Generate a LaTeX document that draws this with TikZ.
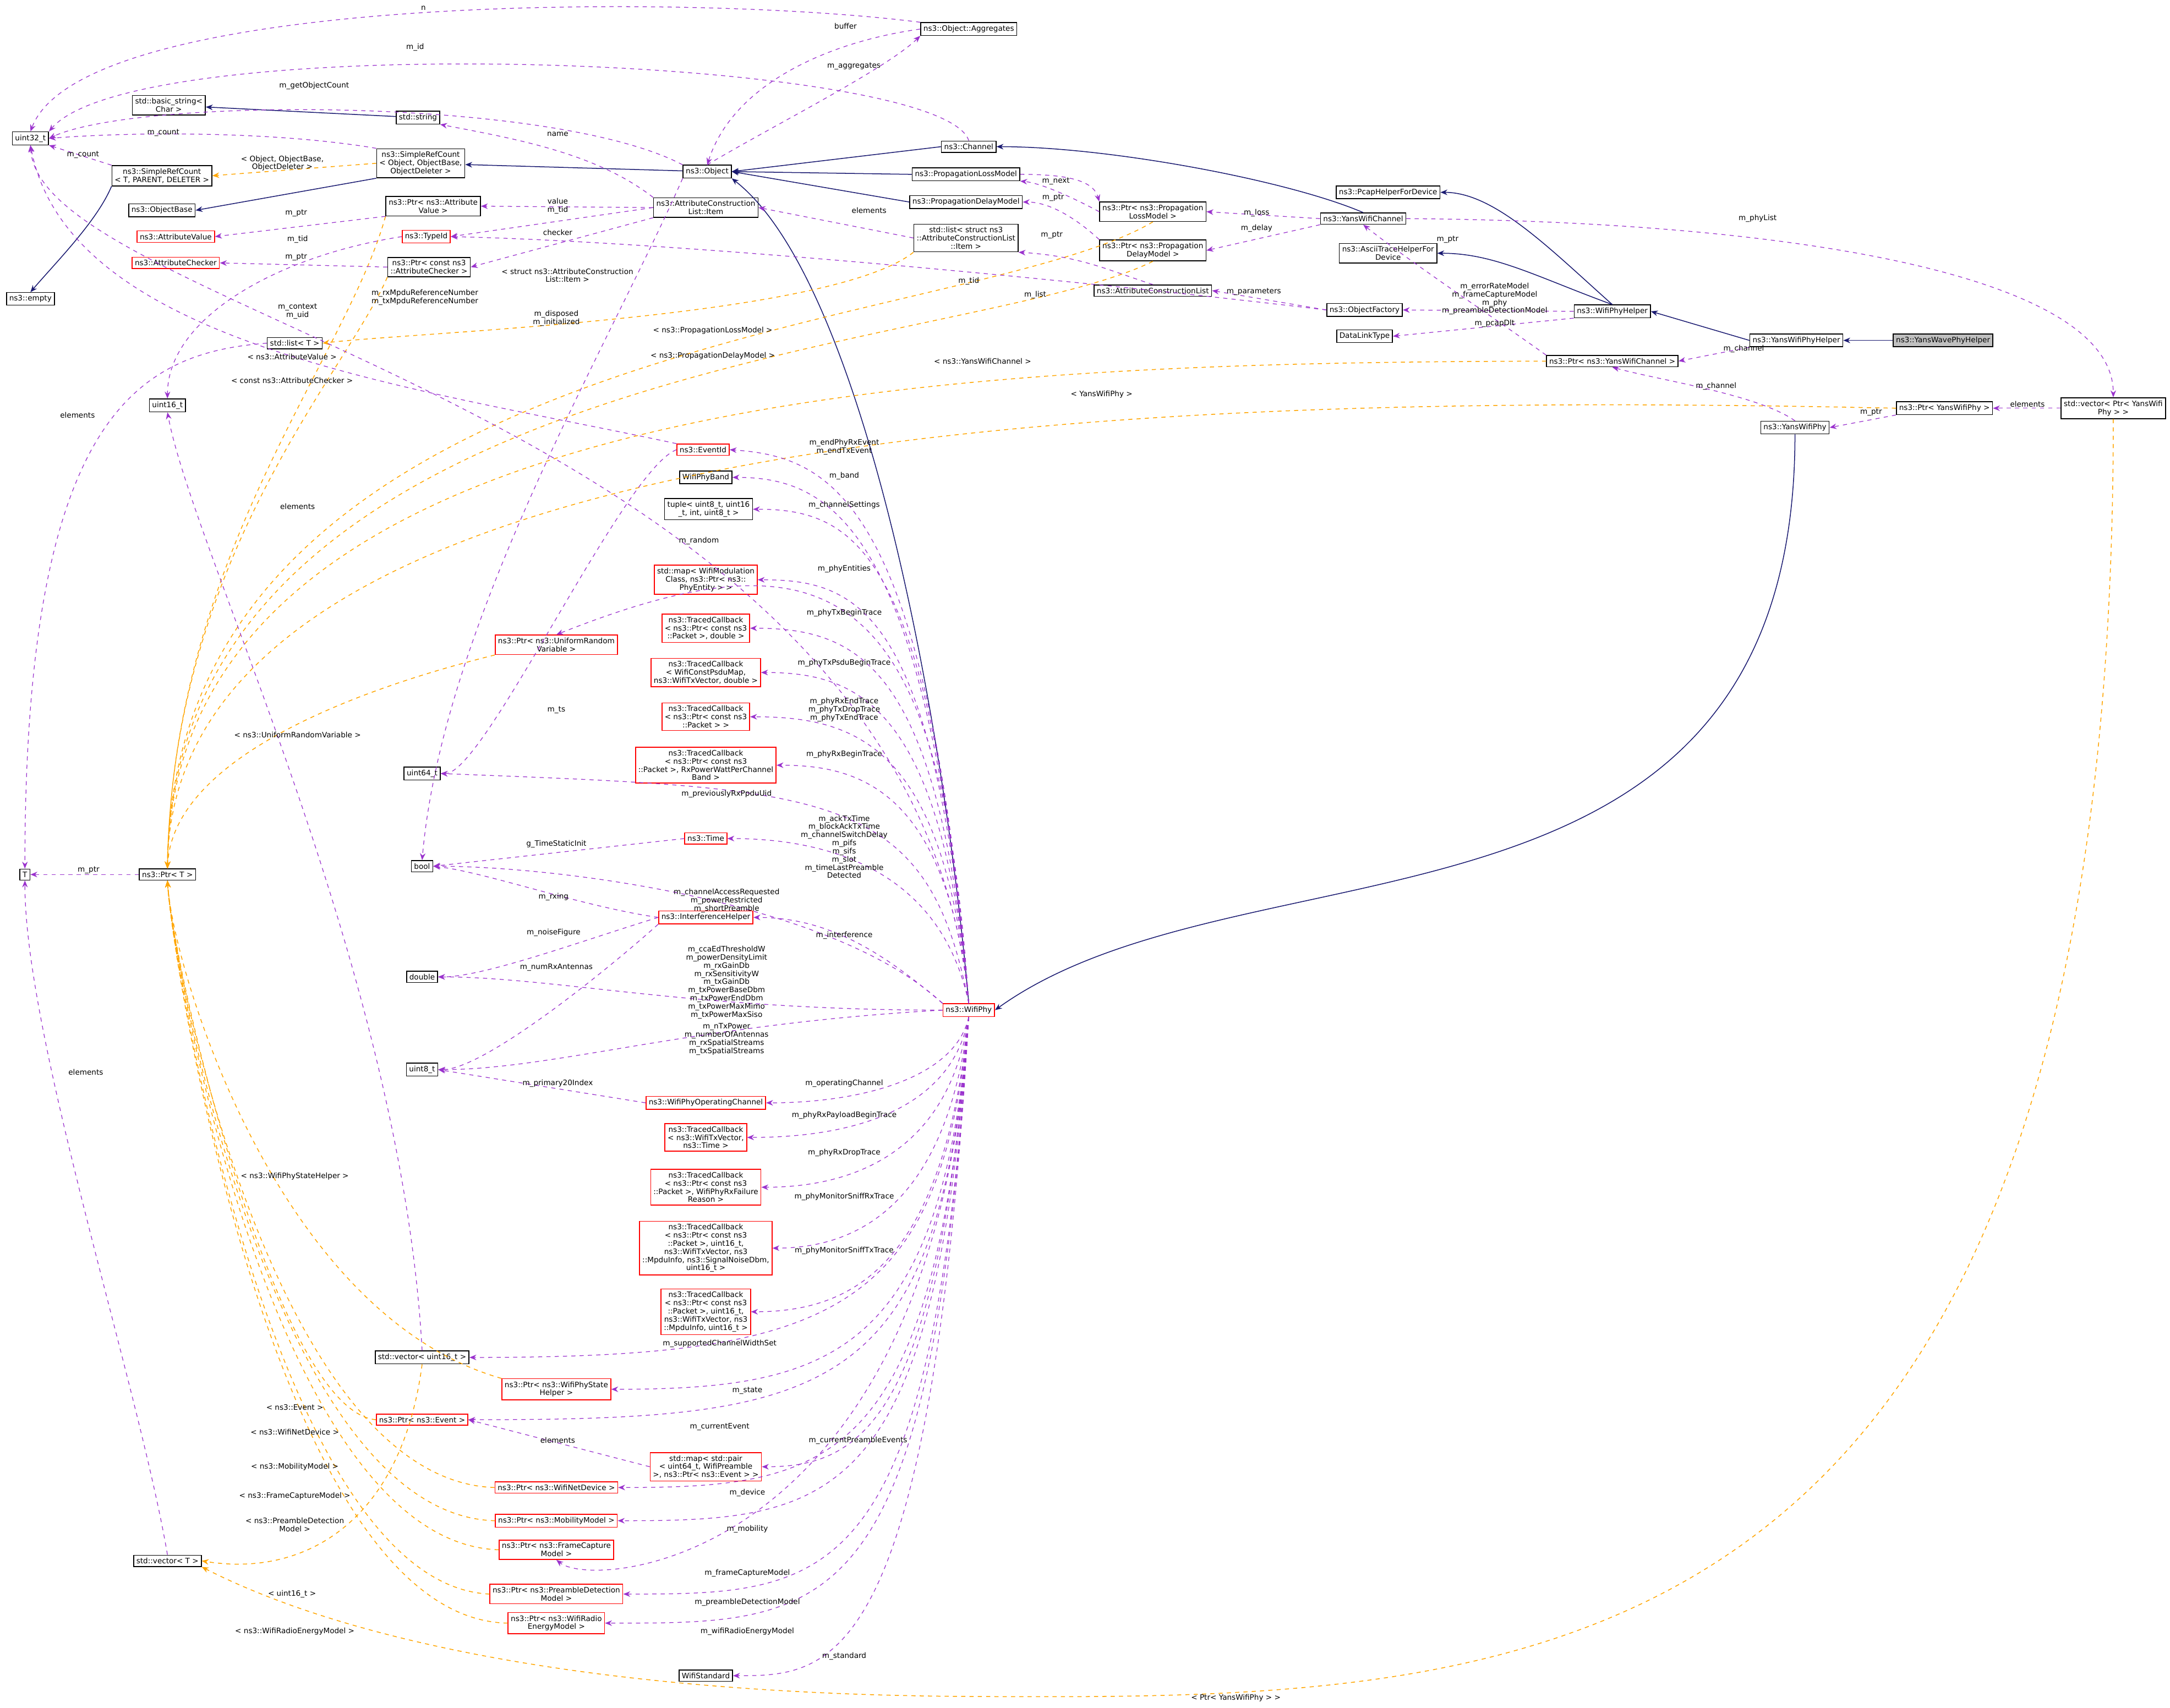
\documentclass[tikz,border=0pt]{standalone}
\usepackage{fontspec}
\setmainfont{DejaVu Sans}
\usetikzlibrary{arrows.meta}
\definecolor{usecol}{RGB}{154,50,205}
\definecolor{tmplcol}{RGB}{255,165,0}
\definecolor{inhcol}{RGB}{25,25,112}
\definecolor{badcol}{RGB}{255,0,0}
\tikzset{
	every node/.style={font=\fontsize{5.4}{5.9}\selectfont},
	cls/.style={draw=black, line width=0.6pt, inner sep=2pt, align=center, fill=white},
	bad/.style={cls, draw=badcol},
	root/.style={cls, fill=black!25},
	lbl/.style={align=center, inner sep=0.5pt},
	use/.style={draw=usecol, dashed, line width=0.5pt, -{Stealth[length=5pt,width=4pt]}},
	tmpl/.style={draw=tmplcol, dashed, line width=0.6pt, -{Stealth[length=5pt,width=4pt]}},
	inh/.style={draw=inhcol, line width=0.6pt, -{Stealth[length=5pt,width=4pt]}}}

\begin{document}
\begin{tikzpicture}[x=1pt,y=1pt,yscale=-1]
	\useasboundingbox (0,0) rectangle (1568,1234);

	% classes, left columns
	\node[cls] (u32) at (22,100) {uint32\_t};
	\node[cls] (bstr) at (122,76) {std::basic\_string\textless\\Char \textgreater};
	\node[cls] (str) at (302,85) {std::string};
	\node[cls] (srct) at (117,127) {ns3::SimpleRefCount\\\textless{} T, PARENT, DELETER \textgreater};
	\node[cls] (srco) at (304,118) {ns3::SimpleRefCount\\\textless{} Object, ObjectBase,\\ObjectDeleter \textgreater};
	\node[cls] (objbase) at (117,152) {ns3::ObjectBase};
	\node[cls] (empty) at (22,216) {ns3::empty};
	\node[cls] (pav) at (313,149) {ns3::Ptr\textless{} ns3::Attribute\\Value \textgreater};
	\node[bad] (av) at (127,171) {ns3::AttributeValue};
	\node[bad] (tid) at (308,171) {ns3::TypeId};
	\node[bad] (ac) at (127,190) {ns3::AttributeChecker};
	\node[cls] (pac) at (310,193) {ns3::Ptr\textless{} const ns3\\::AttributeChecker \textgreater};
	\node[cls] (listt) at (213,248) {std::list\textless{} T \textgreater};
	\node[cls] (u16) at (121,293) {uint16\_t};
	\node[cls] (u64) at (305,559) {uint64\_t};
	\node[cls] (bool) at (305,626) {bool};
	\node[cls] (t) at (18,632) {T};
	\node[cls] (ptrt) at (121,632) {ns3::Ptr\textless{} T \textgreater};
	\node[cls] (dbl) at (305,706) {double};
	\node[cls] (u8) at (305,773) {uint8\_t};
	\node[cls] (vu16) at (305,981) {std::vector\textless{} uint16\_t \textgreater};
	\node[bad] (pev) at (305,1026) {ns3::Ptr\textless{} ns3::Event \textgreater};
	\node[cls] (vect) at (121,1128) {std::vector\textless{} T \textgreater};

	% classes, middle columns
	\node[cls] (aggr) at (700,21) {ns3::Object::Aggregates};
	\node[cls] (obj) at (511,124) {ns3::Object};
	\node[cls] (item) at (510,150) {ns3::AttributeConstruction\\List::Item};
	\node[bad] (purv) at (402,466) {ns3::Ptr\textless{} ns3::UniformRandom\\Variable \textgreater};
	\node[bad] (evid) at (508,325) {ns3::EventId};
	\node[cls] (band) at (510,345) {WifiPhyBand};
	\node[cls] (tupl) at (512,368) {tuple\textless{} uint8\_t, uint16\\\_t, int, uint8\_t \textgreater};
	\node[bad] (phyent) at (510,419) {std::map\textless{} WifiModulation\\Class, ns3::Ptr\textless{} ns3::\\PhyEntity \textgreater{} \textgreater};
	\node[bad] (tca) at (510,454) {ns3::TracedCallback\\\textless{} ns3::Ptr\textless{} const ns3\\::Packet \textgreater, double \textgreater};
	\node[bad] (tcb) at (510,486) {ns3::TracedCallback\\\textless{} WifiConstPsduMap,\\ns3::WifiTxVector, double \textgreater};
	\node[bad] (tcc) at (510,518) {ns3::TracedCallback\\\textless{} ns3::Ptr\textless{} const ns3\\::Packet \textgreater{} \textgreater};
	\node[bad] (tcd) at (510,553) {ns3::TracedCallback\\\textless{} ns3::Ptr\textless{} const ns3\\::Packet \textgreater, RxPowerWattPerChannel\\Band \textgreater};
	\node[bad] (time) at (510,606) {ns3::Time};
	\node[bad] (ih) at (510,663) {ns3::InterferenceHelper};
	\node[bad] (woc) at (510,797) {ns3::WifiPhyOperatingChannel};
	\node[bad] (tce) at (510,822) {ns3::TracedCallback\\\textless{} ns3::WifiTxVector,\\ns3::Time \textgreater};
	\node[bad] (tcf) at (510,858) {ns3::TracedCallback\\\textless{} ns3::Ptr\textless{} const ns3\\::Packet \textgreater, WifiPhyRxFailure\\Reason \textgreater};
	\node[bad] (tcg) at (510,902) {ns3::TracedCallback\\\textless{} ns3::Ptr\textless{} const ns3\\::Packet \textgreater, uint16\_t,\\ns3::WifiTxVector, ns3\\::MpduInfo, ns3::SignalNoiseDbm,\\uint16\_t \textgreater};
	\node[bad] (tch) at (510,948) {ns3::TracedCallback\\\textless{} ns3::Ptr\textless{} const ns3\\::Packet \textgreater, uint16\_t,\\ns3::WifiTxVector, ns3\\::MpduInfo, uint16\_t \textgreater};
	\node[bad] (pwsh) at (402,1004) {ns3::Ptr\textless{} ns3::WifiPhyState\\Helper \textgreater};
	\node[bad] (mapev) at (510,1060) {std::map\textless{} std::pair\\\textless{} uint64\_t, WifiPreamble\\\textgreater, ns3::Ptr\textless{} ns3::Event \textgreater{} \textgreater};
	\node[bad] (pwnd) at (402,1075) {ns3::Ptr\textless{} ns3::WifiNetDevice \textgreater};
	\node[bad] (pmm) at (402,1099) {ns3::Ptr\textless{} ns3::MobilityModel \textgreater};
	\node[bad] (pfc) at (402,1120) {ns3::Ptr\textless{} ns3::FrameCapture\\Model \textgreater};
	\node[bad] (ppd) at (402,1152) {ns3::Ptr\textless{} ns3::PreambleDetection\\Model \textgreater};
	\node[bad] (pwre) at (402,1173) {ns3::Ptr\textless{} ns3::WifiRadio\\EnergyModel \textgreater};
	\node[cls] (wstd) at (510,1211) {WifiStandard};
	\node[bad] (wp) at (700,730) {ns3::WifiPhy};

	% classes, right columns
	\node[cls] (chan) at (700,106) {ns3::Channel};
	\node[cls] (ploss) at (698,126) {ns3::PropagationLossModel};
	\node[cls] (pdelay) at (698,146) {ns3::PropagationDelayModel};
	\node[cls] (litem) at (698,172) {std::list\textless{} struct ns3\\::AttributeConstructionList\\::Item \textgreater};
	\node[cls] (pploss) at (833,153) {ns3::Ptr\textless{} ns3::Propagation\\LossModel \textgreater};
	\node[cls] (ppdelay) at (833,181) {ns3::Ptr\textless{} ns3::Propagation\\DelayModel \textgreater};
	\node[cls] (acl) at (833,210) {ns3::AttributeConstructionList};
	\node[cls] (pcap) at (1003,139) {ns3::PcapHelperForDevice};
	\node[cls] (ywc) at (985,158) {ns3::YansWifiChannel};
	\node[cls] (ascii) at (1003,183) {ns3::AsciiTraceHelperFor\\Device};
	\node[cls] (of) at (986,224) {ns3::ObjectFactory};
	\node[cls] (dlt) at (986,243) {DataLinkType};
	\node[cls] (wph) at (1165,225) {ns3::WifiPhyHelper};
	\node[cls] (pywc) at (1165,261) {ns3::Ptr\textless{} ns3::YansWifiChannel \textgreater};
	\node[cls] (ywph) at (1298,246) {ns3::YansWifiPhyHelper};
	\node[root] (ywave) at (1404,246) {ns3::YansWavePhyHelper};
	\node[cls] (pywp) at (1405,295) {ns3::Ptr\textless{} YansWifiPhy \textgreater};
	\node[cls] (vpywp) at (1527,295) {std::vector\textless{} Ptr\textless{} YansWifi\\Phy \textgreater{} \textgreater};
	\node[cls] (ywp) at (1297,309) {ns3::YansWifiPhy};

	% inheritance
	\draw[inh] (str) -- (bstr);
	\draw[inh] (obj) -- (srco);
	\draw[inh] (srco.south west) -- (objbase.east);
	\draw[inh] (srct.south west) .. controls (70,160) and (40,190) .. (empty.north);
	\draw[inh] (chan.west) -- (obj.east);
	\draw[inh] (ploss.west) -- (obj.east);
	\draw[inh] (pdelay.west) -- (obj.east);
	\draw[inh] (wp.north) .. controls (680,500) and (620,200) .. (obj.south east);
	\draw[inh] (ywc.north) .. controls (930,130) and (800,106) .. (chan.east);
	\draw[inh] (wph.north) .. controls (1120,180) and (1080,139) .. (pcap.east);
	\draw[inh] (wph.north) .. controls (1110,200) and (1080,183) .. (ascii.east);
	\draw[inh] (ywph.west) -- (wph.east);
	\draw[inh] (ywave.west) -- (ywph.east);
	\draw[inh] (ywp.south) .. controls (1297,700) and (900,600) .. (wp.east);

	% template instantiations
	\draw[tmpl] (srco.west) -- (srct.east);
	\draw[tmpl] (pav.south west) .. controls (250,260) and (125,400) .. (ptrt.north);
	\draw[tmpl] (pac.south west) .. controls (250,270) and (125,400) .. (ptrt.north);
	\draw[tmpl] (litem.south west) .. controls (600,230) and (300,240) .. (listt.east);
	\draw[tmpl] (pploss.south) .. controls (700,240) and (125,240) .. (ptrt.north);
	\draw[tmpl] (ppdelay.south) .. controls (700,255) and (125,260) .. (ptrt.north);
	\draw[tmpl] (pywc.west) .. controls (700,262) and (125,280) .. (ptrt.north);
	\draw[tmpl] (pywp.west) .. controls (900,285) and (125,290) .. (ptrt.north);
	\draw[tmpl] (purv.south west) .. controls (250,500) and (125,550) .. (ptrt.north);
	\draw[tmpl] (pwsh.north west) .. controls (200,950) and (125,700) .. (ptrt.south);
	\draw[tmpl] (pev.west) .. controls (200,1020) and (125,700) .. (ptrt.south);
	\draw[tmpl] (pwnd.west) .. controls (200,1070) and (125,700) .. (ptrt.south);
	\draw[tmpl] (pmm.west) .. controls (200,1095) and (125,700) .. (ptrt.south);
	\draw[tmpl] (pfc.west) .. controls (200,1115) and (125,700) .. (ptrt.south);
	\draw[tmpl] (ppd.west) .. controls (200,1145) and (125,700) .. (ptrt.south);
	\draw[tmpl] (pwre.west) .. controls (200,1170) and (125,700) .. (ptrt.south);
	\draw[tmpl] (vu16.south) .. controls (290,1100) and (220,1140) .. (vect.east);
	\draw[tmpl] (vpywp.south) .. controls (1527,1230) and (1100,1228) .. (700,1226) .. controls (350,1224) and (200,1160) .. (vect.south east);

	% members
	\draw[use] (aggr.north west) .. controls (500,-5) and (60,-5) .. (u32.north);
	\draw[use] (aggr.west) .. controls (600,30) and (530,60) .. (obj.north);
	\draw[use] (obj.north) .. controls (560,90) and (640,50) .. (aggr.south west);
	\draw[use] (chan.north) .. controls (680,40) and (100,20) .. (u32.north east);
	\draw[use] (obj.north west) .. controls (400,70) and (100,70) .. (u32.east);
	\draw[use] (srco.north west) .. controls (200,95) and (100,95) .. (u32.east);
	\draw[use] (srct.north west) -- (u32.south east);
	\draw[use] (item.north west) .. controls (430,110) and (370,100) .. (str.south east);
	\draw[use] (item.west) -- (pav.east);
	\draw[use] (item.south west) -- (pac.east);
	\draw[use] (item.west) -- (tid.east);
	\draw[use] (pav.south west) -- (av.east);
	\draw[use] (pac.west) -- (ac.east);
	\draw[use] (tid.west) .. controls (200,185) and (121,230) .. (u16.north);
	\draw[use] (litem.west) -- (item.east);
	\draw[use] (acl.north) .. controls (800,195) and (780,185) .. (litem.south east);
	\draw[use] (of.west) -- (acl.east);
	\draw[use] (of.west) .. controls (800,205) and (500,175) .. (tid.east);
	\draw[use] (pploss.west) .. controls (770,140) and (750,132) .. (ploss.south east);
	\draw[use] (ploss.east) .. controls (770,126) and (790,130) .. (pploss.north west);
	\draw[use] (ppdelay.north west) .. controls (780,160) and (760,146) .. (pdelay.east);
	\draw[use] (ywc.west) -- (pploss.east);
	\draw[use] (ywc.south west) -- (ppdelay.east);
	\draw[use] (ywc.east) .. controls (1300,160) and (1527,200) .. (vpywp.north);
	\draw[use] (wph.west) -- (of.east);
	\draw[use] (wph.south west) -- (dlt.east);
	\draw[use] (ywph.south west) -- (pywc.east);
	\draw[use] (pywc.north west) .. controls (1080,230) and (1020,190) .. (ywc.south);
	\draw[use] (ywp.north) .. controls (1270,285) and (1200,275) .. (pywc.south);
	\draw[use] (pywp.south west) -- (ywp.east);
	\draw[use] (vpywp.west) -- (pywp.east);
	\draw[use] (listt.west) .. controls (100,255) and (18,300) .. (t.north);
	\draw[use] (ptrt.west) -- (t.east);
	\draw[use] (vect.north) .. controls (100,1000) and (18,750) .. (t.south);
	\draw[use] (vu16.north) .. controls (290,700) and (140,400) .. (u16.south);
	\draw[use] (evid.north west) .. controls (300,280) and (50,250) .. (u32.south);
	\draw[use] (evid.west) .. controls (450,340) and (350,560) .. (u64.east);
	\draw[use] (wp.north) .. controls (660,300) and (30,230) .. (u32.south);
	\draw[use] (obj.south west) .. controls (440,250) and (320,450) .. (bool.north);
	\draw[use] (time.west) -- (bool.east);
	\draw[use] (ih.west) .. controls (420,655) and (350,630) .. (bool.east);
	\draw[use] (ih.west) .. controls (420,680) and (350,706) .. (dbl.east);
	\draw[use] (ih.south west) .. controls (440,700) and (350,773) .. (u8.east);
	\draw[use] (woc.west) -- (u8.east);
	\draw[use] (mapev.west) -- (pev.east);
	\draw[use] (wp.north) .. controls (670,360) and (600,330) .. (evid.east);
	\draw[use] (wp.north) .. controls (670,380) and (600,345) .. (band.east);
	\draw[use] (wp.north) .. controls (672,400) and (620,368) .. (tupl.east);
	\draw[use] (wp.north) .. controls (680,420) and (600,380) .. (purv.north);
	\draw[use] (wp.north) .. controls (675,440) and (620,419) .. (phyent.east);
	\draw[use] (wp.north) .. controls (678,480) and (620,454) .. (tca.east);
	\draw[use] (wp.north) .. controls (680,510) and (620,486) .. (tcb.east);
	\draw[use] (wp.north) .. controls (682,540) and (620,518) .. (tcc.east);
	\draw[use] (wp.north) .. controls (684,570) and (620,553) .. (tcd.east);
	\draw[use] (wp.north) .. controls (670,570) and (600,570) .. (u64.east);
	\draw[use] (wp.north) .. controls (680,630) and (600,606) .. (time.east);
	\draw[use] (wp.north west) .. controls (600,650) and (400,626) .. (bool.east);
	\draw[use] (wp.north west) .. controls (640,690) and (600,663) .. (ih.east);
	\draw[use] (wp.west) .. controls (500,730) and (400,706) .. (dbl.east);
	\draw[use] (wp.west) .. controls (500,740) and (400,773) .. (u8.east);
	\draw[use] (wp.south) .. controls (690,780) and (620,797) .. (woc.east);
	\draw[use] (wp.south) .. controls (688,800) and (620,822) .. (tce.east);
	\draw[use] (wp.south) .. controls (686,830) and (620,858) .. (tcf.east);
	\draw[use] (wp.south) .. controls (684,870) and (620,902) .. (tcg.east);
	\draw[use] (wp.south) .. controls (682,910) and (620,948) .. (tch.east);
	\draw[use] (wp.south) .. controls (680,950) and (600,981) .. (vu16.east);
	\draw[use] (wp.south) .. controls (680,980) and (600,1004) .. (pwsh.east);
	\draw[use] (wp.south) .. controls (678,1010) and (600,1026) .. (pev.east);
	\draw[use] (wp.south) .. controls (678,1030) and (620,1060) .. (mapev.east);
	\draw[use] (wp.south) .. controls (676,1060) and (600,1075) .. (pwnd.east);
	\draw[use] (wp.south) .. controls (676,1090) and (600,1099) .. (pmm.east);
	\draw[use] (wp.south) .. controls (675,1130) and (430,1150) .. (pfc.south);
	\draw[use] (wp.south) .. controls (674,1150) and (600,1152) .. (ppd.east);
	\draw[use] (wp.south) .. controls (673,1175) and (600,1173) .. (pwre.east);
	\draw[use] (wp.south) .. controls (672,1210) and (600,1211) .. (wstd.east);

	% Text Nodes
	\node[lbl] (l1) at (306,6) {n};
	\node[lbl] (l2) at (611,19) {buffer};
	\node[lbl] (l3) at (617,48) {m\_aggregates};
	\node[lbl] (l4) at (300,34) {m\_id};
	\node[lbl] (l5) at (227,62) {m\_getObjectCount};
	\node[lbl] (l6) at (118,96) {m\_count};
	\node[lbl] (l7) at (60,112) {m\_count};
	\node[lbl] (l8) at (204,118) {\textless{} Object, ObjectBase,\\ObjectDeleter \textgreater};
	\node[lbl] (l9) at (403,97) {name};
	\node[lbl] (l10) at (403,149) {value\\m\_tid};
	\node[lbl] (l11) at (403,168) {checker};
	\node[lbl] (l12) at (214,154) {m\_ptr};
	\node[lbl] (l13) at (214,186) {m\_ptr};
	\node[lbl] (l14) at (215,173) {m\_tid};
	\node[lbl] (l15) at (628,152) {elements};
	\node[lbl] (l16) at (748,213) {m\_list};
	\node[lbl] (l17) at (906,211) {m\_parameters};
	\node[lbl] (l18) at (700,203) {m\_tid};
	\node[lbl] (l19) at (763,131) {m\_next};
	\node[lbl] (l20) at (761,143) {m\_ptr};
	\node[lbl] (l21) at (760,170) {m\_ptr};
	\node[lbl] (l22) at (908,154) {m\_loss};
	\node[lbl] (l23) at (908,165) {m\_delay};
	\node[lbl] (l24) at (1270,158) {m\_phyList};
	\node[lbl] (l25) at (1080,216) {m\_errorRateModel\\m\_frameCaptureModel\\m\_phy\\m\_preambleDetectionModel};
	\node[lbl] (l26) at (1080,234) {m\_pcapDlt};
	\node[lbl] (l27) at (1260,252) {m\_channel};
	\node[lbl] (l28) at (1046,173) {m\_ptr};
	\node[lbl] (l29) at (1240,279) {m\_channel};
	\node[lbl] (l30) at (1352,298) {m\_ptr};
	\node[lbl] (l31) at (1465,292) {elements};
	\node[lbl] (l32) at (710,261) {\textless{} ns3::YansWifiChannel \textgreater};
	\node[lbl] (l33) at (796,285) {\textless{} YansWifiPhy \textgreater};
	\node[lbl] (l34) at (893,1227) {\textless{} Ptr\textless{} YansWifiPhy \textgreater{} \textgreater};
	\node[lbl] (l35) at (515,239) {\textless{} ns3::PropagationLossModel \textgreater};
	\node[lbl] (l36) at (515,257) {\textless{} ns3::PropagationDelayModel \textgreater};
	\node[lbl] (l37) at (410,199) {\textless{} struct ns3::AttributeConstruction\\List::Item \textgreater};
	\node[lbl] (l38) at (211,258) {\textless{} ns3::AttributeValue \textgreater};
	\node[lbl] (l39) at (211,275) {\textless{} const ns3::AttributeChecker \textgreater};
	\node[lbl] (l40) at (56,300) {elements};
	\node[lbl] (l41) at (64,629) {m\_ptr};
	\node[lbl] (l42) at (62,775) {elements};
	\node[lbl] (l43) at (211,1152) {\textless{} uint16\_t \textgreater};
	\node[lbl] (l44) at (215,366) {elements};
	\node[lbl] (l45) at (215,225) {m\_context\\m\_uid};
	\node[lbl] (l46) at (402,513) {m\_ts};
	\node[lbl] (l47) at (307,215) {m\_rxMpduReferenceNumber\\m\_txMpduReferenceNumber};
	\node[lbl] (l48) at (402,230) {m\_disposed\\m\_initialized};
	\node[lbl] (l49) at (505,391) {m\_random};
	\node[lbl] (l50) at (215,531) {\textless{} ns3::UniformRandomVariable \textgreater};
	\node[lbl] (l51) at (402,610) {g\_TimeStaticInit};
	\node[lbl] (l52) at (400,648) {m\_rxing};
	\node[lbl] (l53) at (400,674) {m\_noiseFigure};
	\node[lbl] (l54) at (402,699) {m\_numRxAntennas};
	\node[lbl] (l55) at (610,323) {m\_endPhyRxEvent\\m\_endTxEvent};
	\node[lbl] (l56) at (610,344) {m\_band};
	\node[lbl] (l57) at (610,365) {m\_channelSettings};
	\node[lbl] (l58) at (610,411) {m\_phyEntities};
	\node[lbl] (l59) at (610,443) {m\_phyTxBeginTrace};
	\node[lbl] (l60) at (610,479) {m\_phyTxPsduBeginTrace};
	\node[lbl] (l61) at (610,513) {m\_phyRxEndTrace\\m\_phyTxDropTrace\\m\_phyTxEndTrace};
	\node[lbl] (l62) at (610,545) {m\_phyRxBeginTrace};
	\node[lbl] (l63) at (525,574) {m\_previouslyRxPpduUid};
	\node[lbl] (l64) at (610,612) {m\_ackTxTime\\m\_blockAckTxTime\\m\_channelSwitchDelay\\m\_pifs\\m\_sifs\\m\_slot\\m\_timeLastPreamble\\Detected};
	\node[lbl] (l65) at (525,651) {m\_channelAccessRequested\\m\_powerRestricted\\m\_shortPreamble};
	\node[lbl] (l66) at (610,676) {m\_interference};
	\node[lbl] (l67) at (525,710) {m\_ccaEdThresholdW\\m\_powerDensityLimit\\m\_rxGainDb\\m\_rxSensitivityW\\m\_txGainDb\\m\_txPowerBaseDbm\\m\_txPowerEndDbm\\m\_txPowerMaxMimo\\m\_txPowerMaxSiso};
	\node[lbl] (l68) at (525,751) {m\_nTxPower\\m\_numberOfAntennas\\m\_rxSpatialStreams\\m\_txSpatialStreams};
	\node[lbl] (l69) at (610,783) {m\_operatingChannel};
	\node[lbl] (l70) at (403,783) {m\_primary20Index};
	\node[lbl] (l71) at (610,806) {m\_phyRxPayloadBeginTrace};
	\node[lbl] (l72) at (610,833) {m\_phyRxDropTrace};
	\node[lbl] (l73) at (610,865) {m\_phyMonitorSniffRxTrace};
	\node[lbl] (l74) at (610,904) {m\_phyMonitorSniffTxTrace};
	\node[lbl] (l75) at (520,971) {m\_supportedChannelWidthSet};
	\node[lbl] (l76) at (540,1005) {m\_state};
	\node[lbl] (l77) at (520,1031) {m\_currentEvent};
	\node[lbl] (l78) at (620,1041) {m\_currentPreambleEvents};
	\node[lbl] (l79) at (403,1041) {elements};
	\node[lbl] (l80) at (540,1079) {m\_device};
	\node[lbl] (l81) at (540,1105) {m\_mobility};
	\node[lbl] (l82) at (540,1137) {m\_frameCaptureModel};
	\node[lbl] (l83) at (540,1158) {m\_preambleDetectionModel};
	\node[lbl] (l84) at (540,1179) {m\_wifiRadioEnergyModel};
	\node[lbl] (l85) at (610,1197) {m\_standard};
	\node[lbl] (l86) at (213,850) {\textless{} ns3::WifiPhyStateHelper \textgreater};
	\node[lbl] (l87) at (213,1017) {\textless{} ns3::Event \textgreater};
	\node[lbl] (l88) at (213,1035) {\textless{} ns3::WifiNetDevice \textgreater};
	\node[lbl] (l89) at (213,1060) {\textless{} ns3::MobilityModel \textgreater};
	\node[lbl] (l90) at (213,1081) {\textless{} ns3::FrameCaptureModel \textgreater};
	\node[lbl] (l91) at (213,1102) {\textless{} ns3::PreambleDetection\\Model \textgreater};
	\node[lbl] (l92) at (213,1179) {\textless{} ns3::WifiRadioEnergyModel \textgreater};
\end{tikzpicture}
\end{document}
